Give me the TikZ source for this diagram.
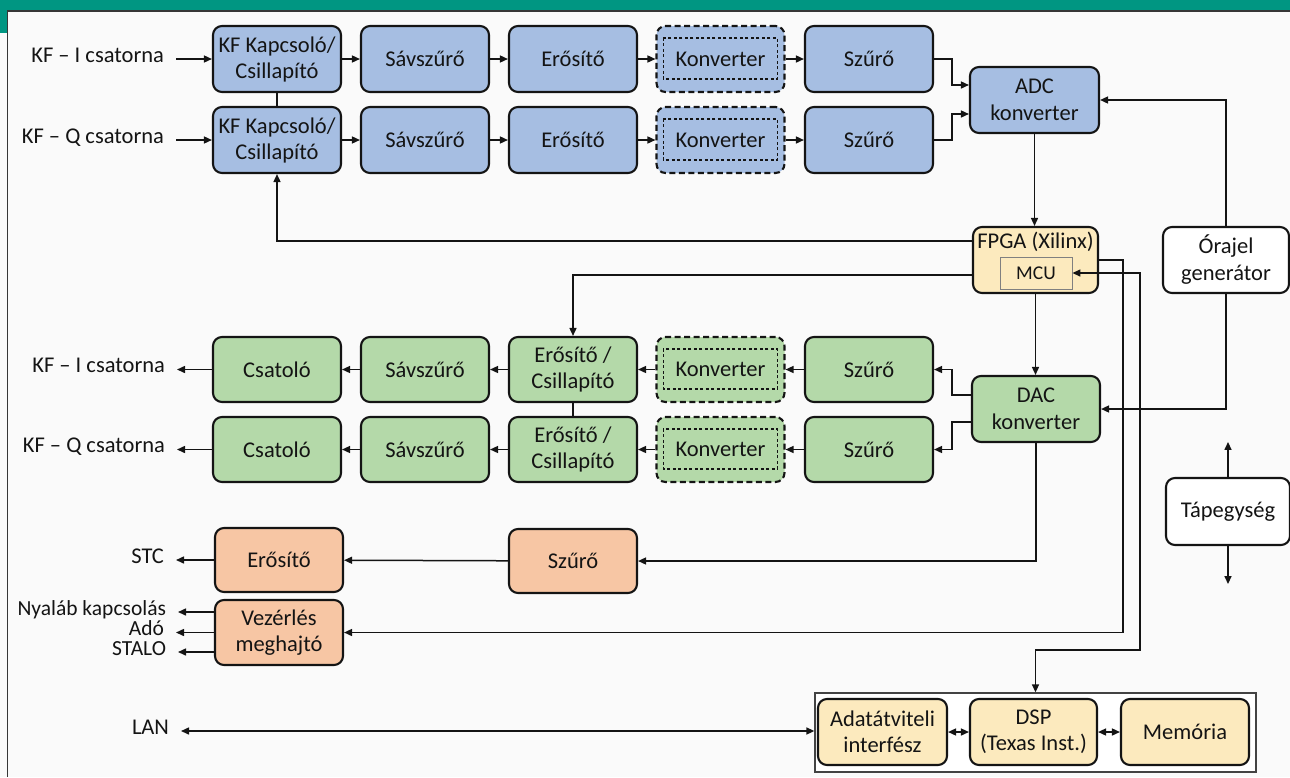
\documentclass[tikz,border=0pt]{standalone}
\usepackage{fontspec}
\setmainfont{Carlito}
\usetikzlibrary{arrows.meta,calc}
\definecolor{hdr}{RGB}{0,150,130}
\definecolor{bluef}{RGB}{166,190,226}
\definecolor{greenf}{RGB}{180,217,169}
\definecolor{orangef}{RGB}{247,198,164}
\definecolor{yellowf}{RGB}{252,234,190}
\definecolor{ink}{RGB}{20,20,20}
\definecolor{panel}{RGB}{250,250,250}
\newcommand\innerdash[1]{\draw[ink, line width=1.2pt, dash pattern=on 3pt off 2.5pt] ([shift={(8pt,-13pt)}]#1.north west) rectangle ([shift={(-8pt,14pt)}]#1.south east);}
\begin{document}
\begin{tikzpicture}[x=1pt,y=-1pt,
  font=\fontsize{22.5}{26}\selectfont,
  box/.style={draw=ink, line width=2.1pt, rounded corners=9pt, minimum width=128pt, minimum height=66pt, align=center, inner sep=2pt, text=ink},
  bluebox/.style={box, fill=bluef},
  grnbox/.style={box, fill=greenf, minimum height=65pt},
  orgbox/.style={box, fill=orangef, minimum height=64pt},
  ylwbox/.style={box, fill=yellowf},
  whtbox/.style={box, fill=white},
  dashbox/.style={dash pattern=on 6pt off 3.5pt},
  conn/.style={draw=ink, line width=1.5pt},
  arr/.style={conn, -{Triangle[length=8pt,width=7pt]}},
  darr/.style={conn, {Triangle[length=8pt,width=7pt]}-{Triangle[length=8pt,width=7pt]}},
  lbl/.style={inner sep=0pt, outer xsep=12pt, text height=0.66em, text depth=0.06em, text=ink},
  smlbl/.style={lbl, font=\fontsize{21.5}{24}\selectfont},
  mcubox/.style={draw=gray, line width=0.9pt, fill=yellowf, minimum width=72pt, minimum height=32pt, inner sep=0pt, text=ink, font=\fontsize{19.5}{22}\selectfont}
]
\useasboundingbox (0,0) rectangle (1290,777);
\fill[panel] (0,0) rectangle (1290,777);
\fill[hdr] (0,0) rectangle (1290,11);
\fill[hdr] (0,0) rectangle (7.5,33);
\draw[ink!85, line width=1.2pt] (7.5,777) -- (7.5,11) -- (1290,11);

% ---- receive chain (blue)
\node[bluebox] (kf1) at (277,59) {KF Kapcsoló/\\Csillapító};
\node[bluebox] (sav1) at (425,59) {Sávszűrő};
\node[bluebox] (ero1) at (573,59) {Erősítő};
\node[bluebox, dashbox] (konv1) at (720.5,59) {Konverter};
\node[bluebox] (sz1) at (869,59) {Szűrő};
\node[bluebox] (kf2) at (277,140) {KF Kapcsoló/\\Csillapító};
\node[bluebox] (sav2) at (425,140) {Sávszűrő};
\node[bluebox] (ero2) at (573,140) {Erősítő};
\node[bluebox, dashbox] (konv2) at (720.5,140) {Konverter};
\node[bluebox] (sz2) at (869,140) {Szűrő};
\innerdash{konv1}
\innerdash{konv2}
\node[bluebox, minimum width=129pt, font=\fontsize{22.5}{27}\selectfont] (adc) at (1034.5,100) {ADC\\konverter};

% ---- FPGA, clock
\node[ylwbox, minimum width=125pt] (fpga) at (1035.5,260) {};
\node[inner sep=0pt, text=ink] (fpgat) at (1035.5,242) {FPGA (Xilinx)};
\node[mcubox] (mcu) at (1036,273) {MCU};
\node[whtbox, minimum width=126pt, font=\fontsize{22.5}{27}\selectfont] (ora) at (1226,260) {Órajel\\generátor};

% ---- transmit chain (green)
\node[grnbox] (cs3) at (277,369.5) {Csatoló};
\node[grnbox] (sav3) at (425,369.5) {Sávszűrő};
\node[grnbox] (ero3) at (573,369.5) {Erősítő /\\Csillapító};
\node[grnbox, dashbox] (konv3) at (720.5,369.5) {Konverter};
\node[grnbox] (sz3) at (869,369.5) {Szűrő};
\node[grnbox] (cs4) at (277,449.5) {Csatoló};
\node[grnbox] (sav4) at (425,449.5) {Sávszűrő};
\node[grnbox] (ero4) at (573,449.5) {Erősítő /\\Csillapító};
\node[grnbox, dashbox] (konv4) at (720.5,449.5) {Konverter};
\node[grnbox] (sz4) at (869,449.5) {Szűrő};
\innerdash{konv3}
\innerdash{konv4}
\node[grnbox, minimum height=66pt, font=\fontsize{22.5}{27}\selectfont] (dac) at (1036,409) {DAC\\konverter};

% ---- orange
\node[orgbox] (oero) at (279,560) {Erősítő};
\node[orgbox] (osz) at (573,561) {Szűrő};
\node[orgbox, minimum height=65pt] (vez) at (279,632.5) {Vezérlés\\meghajtó};

% ---- power
\node[whtbox, minimum width=124pt, minimum height=67pt] (tap) at (1228,511.5) {Tápegység};

% ---- DSP group
\node[draw=ink!80, line width=1.3pt, fill=white, minimum width=441pt, minimum height=79pt] (grp) at (1035.5,732.5) {};
\node[ylwbox, minimum width=129pt] (adat) at (882.5,732) {Adatátviteli\\interfész};
\node[ylwbox, minimum width=127pt] (dsp) at (1033.5,732) {DSP\\(Texas Inst.)};
\node[ylwbox] (mem) at (1185,732) {Memória};

% ---- labels
\node[lbl, anchor=east] (inI) at (176,59) {KF – I csatorna};
\node[lbl, anchor=east] (inQ) at (176,140) {KF – Q csatorna};
\node[lbl, anchor=east] (outI) at (177,369.5) {KF – I csatorna};
\node[lbl, anchor=east] (outQ) at (177,449.5) {KF – Q csatorna};
\node[lbl, anchor=east] (stc) at (176,560) {STC};
\node[smlbl, anchor=east] (nyal) at (178,612) {Nyaláb kapcsolás};
\node[smlbl, anchor=east] (ado) at (176,632.5) {Adó};
\node[smlbl, anchor=east] (stalo) at (178,652) {STALO};
\node[lbl, anchor=east] (lan) at (181,731) {LAN};

% ---- connectors: receive
\draw[arr] (inI) -- (kf1);
\draw[arr] (inQ) -- (kf2);
\draw[conn] (kf1) -- (kf2);
\draw[arr] (kf1) -- (sav1);
\draw[arr] (sav1) -- (ero1);
\draw[arr] (ero1) -- (konv1);
\draw[arr] (konv1) -- (sz1);
\draw[arr] (kf2) -- (sav2);
\draw[arr] (sav2) -- (ero2);
\draw[arr] (ero2) -- (konv2);
\draw[arr] (konv2) -- (sz2);
\draw[arr] (sz1.east) -- ++(18,0) |- ([yshift=15pt]adc.west);
\draw[arr] (sz2.east) -- ++(18,0) |- ([yshift=-14pt]adc.west);
\draw[arr] (adc.south) -- (adc.south |- fpga.north);
\draw[arr] (ora.north) |- (adc.east);
\draw[arr] (ora.south) |- (dac.east);
\draw[arr] ([yshift=19pt]fpga.west) -| (kf2.south);
\draw[arr] ([yshift=-15pt]fpga.west) -| (ero3.north);
\draw[arr] (fpga.south) -- (fpga.south |- dac.north);

% ---- connectors: transmit
\draw[arr] ([yshift=14pt]dac.west) -- ++(-19,0) |- (sz3.east);
\draw[arr] ([yshift=-13pt]dac.west) -- ++(-19,0) |- (sz4.east);
\draw[arr] (sz3) -- (konv3);
\draw[arr] (konv3) -- (ero3);
\draw[arr] (ero3) -- (sav3);
\draw[arr] (sav3) -- (cs3);
\draw[arr] (cs3) -- (outI);
\draw[arr] (sz4) -- (konv4);
\draw[arr] (konv4) -- (ero4);
\draw[arr] (ero4) -- (sav4);
\draw[arr] (sav4) -- (cs4);
\draw[arr] (cs4) -- (outQ);
\draw[conn] (ero3) -- (ero4);

% ---- orange
\draw[arr] (dac.south) |- (osz.east);
\draw[arr] (osz) -- (oero);
\draw[arr] (oero) -- (stc);
\draw[arr] (fpga.east) -- ++(24,0) |- (vez.east);
\draw[arr] (vez.west |- nyal) -- (nyal.east);
\draw[arr] (vez.west |- ado) -- (ado.east);
\draw[arr] (vez.west |- stalo) -- (stalo.east);

% ---- DSP
\coordinate (dj) at (1140,650);
\draw[darr] (mcu.east) -| (dj) -| (grp.north);
\draw[darr] (lan.east) -- (lan.east -| grp.west);
\draw[darr] (adat) -- (dsp);
\draw[darr] (dsp) -- (mem);

% ---- power
\draw[arr] (tap.north) -- ++(0,-35);
\draw[arr] (tap.south) -- ++(0,38);
\end{tikzpicture}
\end{document}
